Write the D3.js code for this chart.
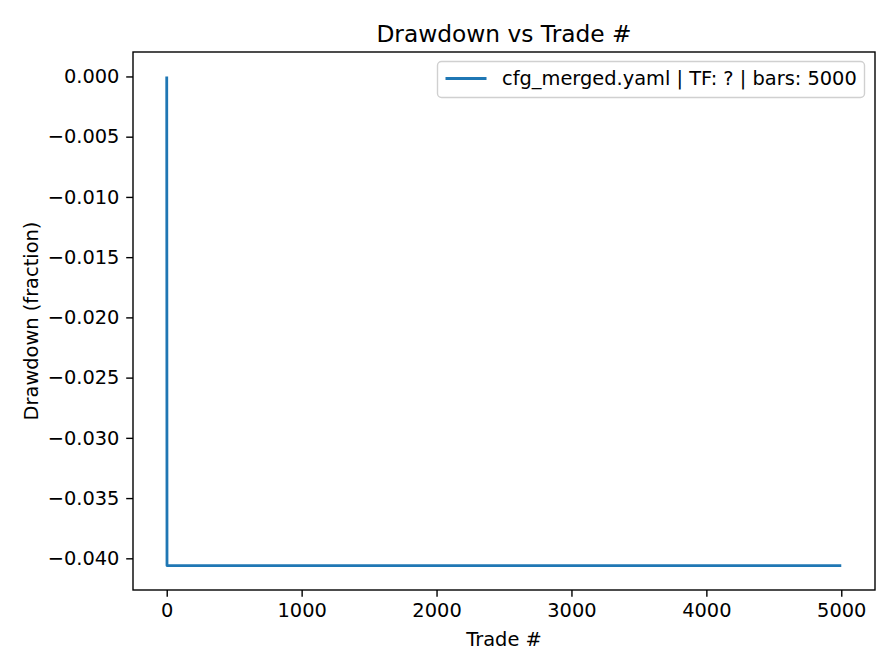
<!DOCTYPE html>
<html>
<head>
<meta charset="utf-8">
<script src="https://cdn.jsdelivr.net/npm/d3@7"></script>
<style>
  body { margin: 0; background: #fff; }
  svg { display: block; }
  text { font-family: "DejaVu Sans", sans-serif; fill: #000; }
</style>
</head>
<body>
<div id="viz"></div>
<script>
'use strict';

// data
const trades = [0, 2, 5000];
const drawdown = [0.0, -0.0406, -0.0406];
const xTicks = [0, 1000, 2000, 3000, 4000, 5000];
const yTicks = [0.000, -0.005, -0.010, -0.015, -0.020, -0.025, -0.030, -0.035, -0.040];
const seriesLabel = 'cfg_merged.yaml | TF: ? | bars: 5000';

const W = 896, H = 672;
const margin = {top: 52, right: 21, bottom: 82, left: 133};
const width = W - margin.left - margin.right;
const height = H - margin.top - margin.bottom;

const svg = d3.select('#viz')
  .append('svg')
    .attr('width', W)
    .attr('height', H);

const g = svg.append('g')
  .attr('transform', `translate(${margin.left},${margin.top})`);

const x = d3.scaleLinear()
  .domain([-250, 5250])
  .range([0, width]);

const y = d3.scaleLinear()
  .domain([-0.0406 - 0.00203, 0.00203])
  .range([height, 0]);

const fmtMinus = s => s.replace('-', '\u2212');

// x axis
const xAxis = g.append('g')
  .attr('transform', `translate(0,${height})`)
  .call(d3.axisBottom(x).tickValues(xTicks).tickSize(6.8).tickPadding(6.8).tickFormat(d3.format('d')));

// y axis
const yAxis = g.append('g')
  .call(d3.axisLeft(y).tickValues(yTicks).tickSize(6.8).tickPadding(6.8)
    .tickFormat(d => fmtMinus(d3.format('.3f')(d))));

for (const ax of [xAxis, yAxis]) {
  ax.select('.domain').remove();
  ax.selectAll('line').attr('stroke', '#000').attr('stroke-width', 1.4);
  ax.selectAll('text')
    .style('font-family', '"DejaVu Sans", sans-serif')
    .style('font-size', '19.4px')
    .attr('fill', '#000');
}

// line
const pts = trades.map((t, i) => ({t, v: drawdown[i]}));
g.append('path')
  .datum(pts)
  .attr('fill', 'none')
  .attr('stroke', '#1f77b4')
  .attr('stroke-width', 2.8)
  .attr('stroke-linejoin', 'round')
  .attr('d', d3.line()
    .x(d => x(d.t))
    .y(d => y(d.v)));

// frame
g.append('rect')
  .attr('width', width)
  .attr('height', height)
  .attr('fill', 'none')
  .attr('stroke', '#000')
  .attr('stroke-width', 1.4);

// title and labels
svg.append('text')
  .attr('x', margin.left + width / 2)
  .attr('y', 42)
  .attr('text-anchor', 'middle')
  .style('font-size', '23.3px')
  .text('Drawdown vs Trade #');

svg.append('text')
  .attr('x', margin.left + width / 2)
  .attr('y', 646)
  .attr('text-anchor', 'middle')
  .style('font-size', '19.4px')
  .text('Trade #');

svg.append('text')
  .attr('transform', `translate(38,${margin.top + height / 2}) rotate(-90)`)
  .attr('text-anchor', 'middle')
  .style('font-size', '19.4px')
  .text('Drawdown (fraction)');

// legend
const leg = svg.append('g').attr('transform', 'translate(437.5,61.5)');
leg.append('rect')
  .attr('width', 427)
  .attr('height', 36)
  .attr('rx', 4)
  .attr('fill', '#fff')
  .attr('fill-opacity', 0.8)
  .attr('stroke', '#d0d0d0')
  .attr('stroke-width', 1.4);
leg.append('line')
  .attr('x1', 8).attr('x2', 49)
  .attr('y1', 17).attr('y2', 17)
  .attr('stroke', '#1f77b4')
  .attr('stroke-width', 2.8);
leg.append('text')
  .attr('x', 64.5)
  .attr('y', 23)
  .style('font-size', '19.4px')
  .text(seriesLabel);
</script>
</body>
</html>
